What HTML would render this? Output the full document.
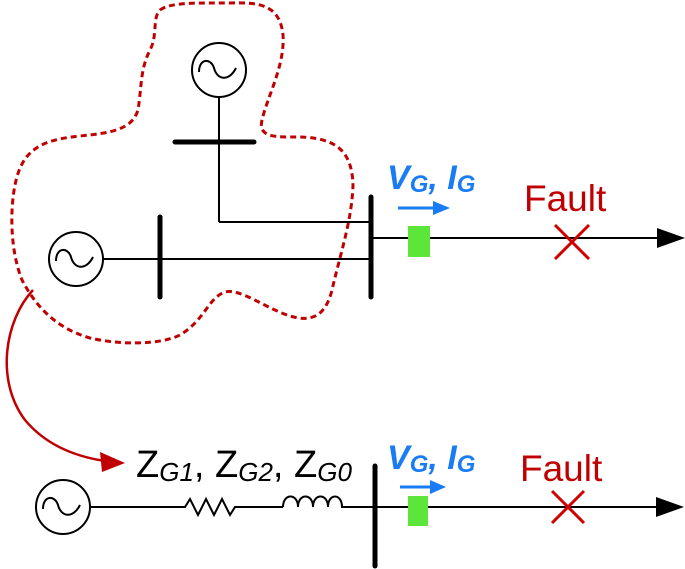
<!DOCTYPE html>
<html><head><style>body{margin:0;background:#fff}svg{display:block}</style></head><body>
<svg width="685" height="569" viewBox="0 0 685 569" xmlns="http://www.w3.org/2000/svg" font-family="Liberation Sans, sans-serif">
<path d="M160,10 C170,2 200,3 230,3 C260,2 280,5 283,35 C285,65 268,95 262,120 C258,138 275,137 300,137 C335,138 352,150 353,185 C352,220 340,255 332,290 C325,318 310,322 290,316 C265,308 240,288 225,292 C208,298 205,320 180,335 C160,345 120,345 90,338 C55,328 35,305 22,280 C10,250 10,210 15,185 C22,150 40,140 80,136 C110,133 132,130 138,110 C142,85 140,70 150,50 C158,35 152,18 160,10 Z" fill="none" stroke="#c00000" stroke-width="3" stroke-dasharray="6,4"/>
<path d="M33,290 C5,320 -5,380 25,420 C50,450 85,458 105,461" fill="none" stroke="#c00000" stroke-width="2.5"/>
<polygon points="125,463 100,452 102,472" fill="#c00000"/>
<g stroke="#000" fill="none">
<circle cx="219" cy="70" r="27" stroke-width="2"/>
<path d="M199,72 C199,58 211,58 214,68 C217,80 229,82 236,68" stroke-width="2"/>
<line x1="219" y1="97" x2="219" y2="222" stroke-width="2"/>
<line x1="175" y1="142" x2="254" y2="142" stroke-width="5" stroke-linecap="round"/>
<polyline points="219,222 371,222" stroke-width="2"/>
<circle cx="76" cy="259" r="27" stroke-width="2"/>
<path d="M56,261 C56,247 68,247 71,257 C74,269 86,271 93,257" stroke-width="2"/>
<line x1="103" y1="259" x2="371" y2="259" stroke-width="2"/>
<line x1="160" y1="217" x2="160" y2="297" stroke-width="5" stroke-linecap="round"/>
<line x1="371" y1="197" x2="371" y2="297" stroke-width="5" stroke-linecap="round"/>
<line x1="371" y1="238" x2="660" y2="238" stroke-width="2"/>
<circle cx="63" cy="507" r="27" stroke-width="2"/>
<path d="M43,509 C43,495 55,495 58,505 C61,517 73,519 80,505" stroke-width="2"/>
<polyline points="90,507 185,507 190,499 198,515 206,499 214,515 222,499 230,515 235,507 283,507" stroke-width="2"/>
<path d="M283,507 C283,493 298,493 298,507 C298,493 313,493 313,507 C313,493 328,493 328,507 C328,493 342,493 342,507 L660,507" stroke-width="2"/>
<line x1="375" y1="466" x2="375" y2="566" stroke-width="5" stroke-linecap="round"/>
</g>
<polygon points="685,238 657,228 657,248" fill="#000"/>
<polygon points="684,507 656,497 656,517" fill="#000"/>
<rect x="408" y="226" width="22" height="31" fill="#5de63a"/>
<rect x="408" y="496" width="20" height="30" fill="#5de63a"/>
<g stroke="#d00000" stroke-width="3">
<line x1="555" y1="225" x2="589" y2="259"/><line x1="589" y1="225" x2="555" y2="259"/>
<line x1="552" y1="491" x2="584" y2="523"/><line x1="584" y1="491" x2="552" y2="523"/>
</g>
<g stroke="#1a7cf5" stroke-width="3"><line x1="398" y1="208" x2="435" y2="208"/><line x1="400" y1="487" x2="432" y2="487"/></g>
<polygon points="450,208 433,201 433,215" fill="#1a7cf5"/>
<polygon points="446,487 430,480 430,494" fill="#1a7cf5"/>
<text x="387" y="189" fill="#1a7cf5" font-weight="bold" font-style="italic" font-size="34">V<tspan font-size="24" dy="3">G</tspan><tspan dy="-3">, I</tspan><tspan font-size="24" dy="3">G</tspan></text>
<text x="387" y="469" fill="#1a7cf5" font-weight="bold" font-style="italic" font-size="34">V<tspan font-size="24" dy="3">G</tspan><tspan dy="-3">, I</tspan><tspan font-size="24" dy="3">G</tspan></text>
<text x="524" y="211" fill="#c00000" font-size="37">Fault</text>
<text x="520" y="481" fill="#c00000" font-size="37">Fault</text>
<text x="136" y="477" fill="#000" font-size="38">Z<tspan font-size="26" font-style="italic" dy="4">G1</tspan><tspan dy="-4">, Z</tspan><tspan font-size="26" font-style="italic" dy="4">G2</tspan><tspan dy="-4">, Z</tspan><tspan font-size="26" font-style="italic" dy="4">G0</tspan></text>
</svg>
</body></html>
